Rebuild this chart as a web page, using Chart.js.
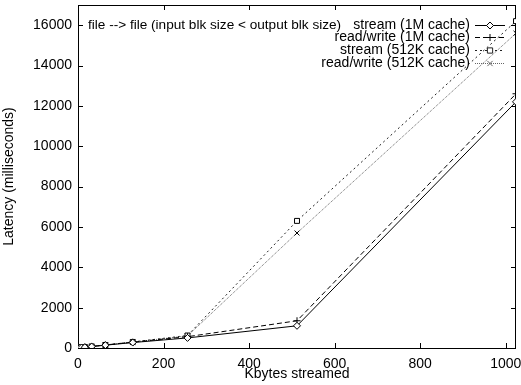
<!DOCTYPE html>
<html>
<head>
<meta charset="utf-8">
<script src="https://cdn.jsdelivr.net/npm/chart.js@4"></script>
<style>
    html, body { margin: 0; padding: 0; background: #fff; }
    #wrap { width: 521px; height: 385px; }
</style>
</head>
<body>
<div id="wrap"><canvas id="latencyChart"></canvas></div>
<script>
// ===== DATA =====
const kbytes = [1, 2, 4, 8, 16, 32, 64, 128, 256, 512, 1024];
const stream1M = [5, 8, 12, 20, 40, 70, 140, 270, 500, 1100, 12200];
const readWrite1M = [6, 9, 14, 24, 45, 80, 150, 290, 560, 1350, 12600];
const stream512K = [6, 9, 14, 24, 45, 80, 150, 300, 620, 6300, 16200];
const readWrite512K = [6, 9, 14, 24, 45, 80, 150, 290, 600, 5700, 15600];
const seriesNames = ['stream (1M cache)', 'read/write (1M cache)', 'stream (512K cache)', 'read/write (512K cache)'];
const xTicks = [0, 200, 400, 600, 800, 1000];
const yTicks = [0, 2000, 4000, 6000, 8000, 10000, 12000, 14000, 16000];
const plotTitle = 'file --> file (input blk size < output blk size)';

const FONT = '"Liberation Sans", Arial, Helvetica, sans-serif';

function toPoints(values) {
    return values.map((v, i) => ({ x: kbytes[i], y: v }));
}

// ===== GNUPLOT STYLE FRAME (border + inward ticks) =====
const framePlugin = {
    id: 'frame',
    beforeDatasetsDraw(chart) {
        const { ctx, chartArea: a, scales } = chart;
        const len = 5;
        ctx.save();
        ctx.strokeStyle = '#000';
        ctx.lineWidth = 1;
        ctx.beginPath();
        xTicks.forEach(v => {
            const px = Math.round(scales.x.getPixelForValue(v)) + 0.5;
            ctx.moveTo(px, a.bottom); ctx.lineTo(px, a.bottom - len);
            ctx.moveTo(px, a.top); ctx.lineTo(px, a.top + len);
        });
        yTicks.forEach(v => {
            const py = Math.round(scales.y.getPixelForValue(v)) + 0.5;
            ctx.moveTo(a.left, py); ctx.lineTo(a.left + len, py);
            ctx.moveTo(a.right, py); ctx.lineTo(a.right - len, py);
        });
        ctx.stroke();
        ctx.strokeRect(a.left + 0.5, a.top + 0.5, a.right - a.left - 1, a.bottom - a.top);
        ctx.restore();
    }
};

// ===== KEY (drawn inside the plot, top right) =====
function drawMarker(ctx, style, x, y, r) {
    ctx.beginPath();
    if (style === 'rectRot') {
        ctx.moveTo(x, y - r); ctx.lineTo(x + r, y); ctx.lineTo(x, y + r); ctx.lineTo(x - r, y); ctx.closePath();
        ctx.fillStyle = '#fff'; ctx.fill();
    } else if (style === 'rect') {
        ctx.rect(x - r * 0.75, y - r * 0.75, r * 1.5, r * 1.5);
        ctx.fillStyle = '#fff'; ctx.fill();
    } else if (style === 'cross') {
        ctx.moveTo(x - r, y); ctx.lineTo(x + r, y); ctx.moveTo(x, y - r); ctx.lineTo(x, y + r);
    } else {
        const d = r * 0.75;
        ctx.moveTo(x - d, y - d); ctx.lineTo(x + d, y + d); ctx.moveTo(x + d, y - d); ctx.lineTo(x - d, y + d);
    }
    ctx.stroke();
}

const keyPlugin = {
    id: 'gnuKey',
    afterDraw(chart) {
        const { ctx, chartArea: a } = chart;
        ctx.save();
        ctx.font = '13.6px ' + FONT;
        ctx.fillStyle = '#000';
        ctx.textBaseline = 'middle';
        ctx.textAlign = 'left';
        ctx.fillText(plotTitle, a.left + 10, a.top + 20);
        ctx.font = '14px ' + FONT;
        ctx.textAlign = 'right';
        chart.data.datasets.forEach((ds, i) => {
            const y = Math.round(a.top + 19.5 + i * 12.8) + 0.5;
            ctx.fillStyle = '#000';
            ctx.fillText(ds.label, a.right - 46, y);
            ctx.strokeStyle = ds.borderColor;
            ctx.lineWidth = 1;
            ctx.setLineDash(ds.borderDash || []);
            ctx.beginPath();
            ctx.moveTo(a.right - 41, y); ctx.lineTo(a.right - 11, y);
            ctx.stroke();
            ctx.setLineDash([]);
            drawMarker(ctx, ds.pointStyle, a.right - 26, y, 3.5);
        });
        ctx.restore();
    }
};

// ===== CHART =====
const ctx = document.getElementById('latencyChart');
new Chart(ctx, {
    type: 'line',
    data: {
        datasets: [
            {
                label: seriesNames[0],
                data: toPoints(stream1M),
                borderColor: '#000',
                borderWidth: 1,
                pointStyle: 'rectRot',
                pointRadius: 3.5,
                pointBorderColor: '#000',
                pointBackgroundColor: '#fff',
                pointBorderWidth: 1
            },
            {
                label: seriesNames[1],
                data: toPoints(readWrite1M),
                borderColor: '#000',
                borderWidth: 1,
                borderDash: [5, 3],
                pointStyle: 'cross',
                pointRadius: 3.5,
                pointBorderColor: '#000',
                pointBorderWidth: 1
            },
            {
                label: seriesNames[2],
                data: toPoints(stream512K),
                borderColor: '#222',
                borderWidth: 1,
                borderDash: [2, 3],
                pointStyle: 'rect',
                pointRadius: 3.5,
                pointBorderColor: '#000',
                pointBackgroundColor: '#fff',
                pointBorderWidth: 1
            },
            {
                label: seriesNames[3],
                data: toPoints(readWrite512K),
                borderColor: '#666',
                borderWidth: 1,
                borderDash: [1, 1],
                pointStyle: 'crossRot',
                pointRadius: 3.5,
                pointBorderColor: '#000',
                pointBorderWidth: 1
            }
        ]
    },
    options: {
        responsive: true,
        maintainAspectRatio: false,
        animation: false,
        layout: { padding: { top: 5, right: 2, left: 0, bottom: 0 } },
        plugins: {
            legend: { display: false },
            tooltip: { enabled: false }
        },
        scales: {
            x: {
                type: 'linear',
                min: 0,
                max: 1024,
                afterFit: scale => { scale.height = 37; scale.paddingLeft = 0; scale.paddingRight = 0; },
                afterBuildTicks: scale => { scale.ticks = xTicks.map(v => ({ value: v })); },
                grid: { display: false, drawTicks: false },
                border: { display: false },
                ticks: {
                    color: '#000',
                    padding: 8,
                    maxRotation: 0,
                    font: { family: FONT, size: 14 },
                    callback: v => String(v)
                },
                title: {
                    display: true,
                    text: 'Kbytes streamed',
                    color: '#000',
                    padding: { top: 0, bottom: 2 },
                    font: { family: FONT, size: 14 }
                }
            },
            y: {
                min: 0,
                max: 17000,
                afterFit: scale => { scale.width = 78; scale.paddingTop = 0; scale.paddingBottom = 0; },
                afterBuildTicks: scale => { scale.ticks = yTicks.map(v => ({ value: v })); },
                grid: { display: false, drawTicks: false },
                border: { display: false },
                ticks: {
                    color: '#000',
                    padding: 6,
                    font: { family: FONT, size: 14 },
                    callback: v => String(v)
                },
                title: {
                    display: true,
                    text: 'Latency (milliseconds)',
                    color: '#000',
                    padding: { top: 1, bottom: 0 },
                    font: { family: FONT, size: 14 }
                }
            }
        }
    },
    plugins: [framePlugin, keyPlugin]
});
</script>
</body>
</html>
